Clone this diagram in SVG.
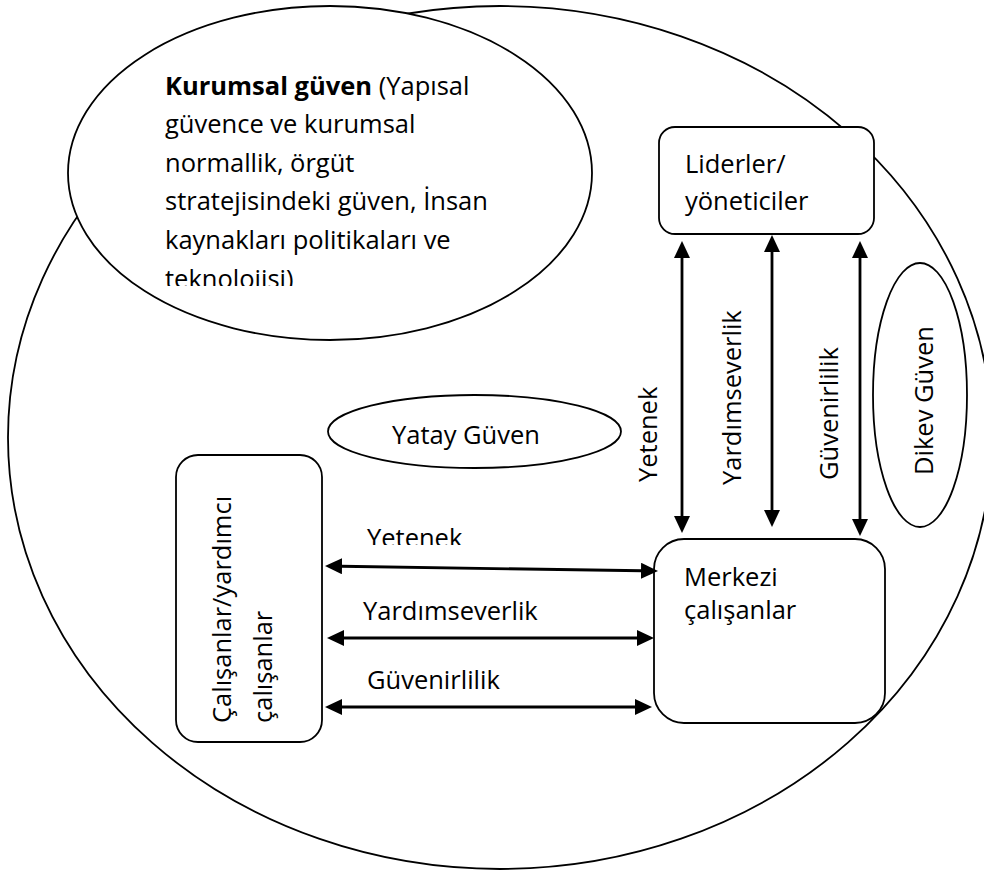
<svg xmlns="http://www.w3.org/2000/svg" width="984" height="871" viewBox="0 0 984 871">
  <style>
    .shape { fill: #ffffff; stroke: #000000; stroke-width: 1.8; }
    .conn { stroke: #000000; stroke-width: 2.8; fill: none; }
    .lbl { font-family: "Open Sans", "Noto Sans", "DejaVu Sans", sans-serif; font-size: 25.5px; fill: #000000; }
    .b { font-weight: bold; }
  </style>
  <defs>
    <marker id="head" viewBox="0 -8 18 16" refX="1" refY="0" markerWidth="18" markerHeight="16" markerUnits="userSpaceOnUse" orient="auto-start-reverse">
      <path d="M0,-8 L17,0 L0,8 Z" fill="#000000"/>
    </marker>
    <clipPath id="clipKurumsal">
      <rect x="100" y="60" width="450" height="226"/>
    </clipPath>
    <clipPath id="clipYetenek">
      <rect x="340" y="500" width="200" height="45"/>
    </clipPath>
  </defs>

  <rect width="984" height="871" fill="#ffffff"/>

  <!-- outer organisation boundary -->
  <g id="organisation">
    <ellipse class="shape" cx="500" cy="437.5" rx="492" ry="431.5"/>
  </g>

  <!-- institutional trust -->
  <g id="kurumsal-guven">
    <ellipse class="shape" cx="330" cy="173" rx="262" ry="167"/>
    <g clip-path="url(#clipKurumsal)">
      <text class="lbl" x="165" y="94.5"><tspan class="b">Kurumsal güven</tspan> (Yapısal</text>
      <text class="lbl" x="165" y="133">güvence ve kurumsal</text>
      <text class="lbl" x="165" y="171.5">normallik, örgüt</text>
      <text class="lbl" x="165" y="210">stratejisindeki güven, İnsan</text>
      <text class="lbl" x="165" y="248.5">kaynakları politikaları ve</text>
      <text class="lbl" x="165" y="287.5">teknolojisi)</text>
    </g>
  </g>

  <g id="yatay-guven">
    <ellipse class="shape" cx="474.5" cy="431.5" rx="146.5" ry="36.5"/>
    <text class="lbl" x="392" y="443.5">Yatay Güven</text>
  </g>

  <g id="dikev-guven">
    <ellipse class="shape" cx="920" cy="395" rx="47" ry="132"/>
    <text class="lbl" transform="translate(933,475) rotate(-90)">Dikev Güven</text>
  </g>

  <g id="liderler">
    <rect class="shape" x="659" y="127" width="215" height="107" rx="16" ry="16"/>
    <text class="lbl" x="685" y="173">Liderler/</text>
    <text class="lbl" x="685" y="210">yöneticiler</text>
  </g>

  <g id="merkezi-calisanlar">
    <rect class="shape" x="654" y="539" width="231" height="184" rx="30" ry="30"/>
    <text class="lbl" x="684" y="586">Merkezi</text>
    <text class="lbl" x="684" y="619">çalışanlar</text>
  </g>

  <g id="yardimci-calisanlar">
    <rect class="shape" x="176" y="455" width="146" height="287" rx="22" ry="22"/>
    <text class="lbl" transform="translate(231,723) rotate(-90)">Çalışanlar/yardımcı</text>
    <text class="lbl" transform="translate(272,723) rotate(-90)">çalışanlar</text>
  </g>

  <!-- two-way trust relations -->
  <g id="connectors">
    <line class="conn" x1="682" y1="257" x2="682" y2="517" marker-start="url(#head)" marker-end="url(#head)"/>
    <line class="conn" x1="772" y1="251" x2="772" y2="511" marker-start="url(#head)" marker-end="url(#head)"/>
    <line class="conn" x1="860" y1="257" x2="860" y2="520" marker-start="url(#head)" marker-end="url(#head)"/>

    <line class="conn" x1="341" y1="566.24" x2="642" y2="570.76" marker-start="url(#head)" marker-end="url(#head)"/>
    <line class="conn" x1="343" y1="638" x2="638" y2="638" marker-start="url(#head)" marker-end="url(#head)"/>
    <line class="conn" x1="341" y1="707" x2="636" y2="707" marker-start="url(#head)" marker-end="url(#head)"/>

    <text class="lbl" transform="translate(657,482) rotate(-90)">Yetenek</text>
    <text class="lbl" transform="translate(741,485) rotate(-90)">Yardımseverlik</text>
    <text class="lbl" transform="translate(838,480) rotate(-90)">Güvenirlilik</text>

    <text class="lbl" x="367" y="546.5" clip-path="url(#clipYetenek)">Yetenek</text>
    <text class="lbl" x="363" y="620">Yardımseverlik</text>
    <text class="lbl" x="367" y="689">Güvenirlilik</text>
  </g>
</svg>
